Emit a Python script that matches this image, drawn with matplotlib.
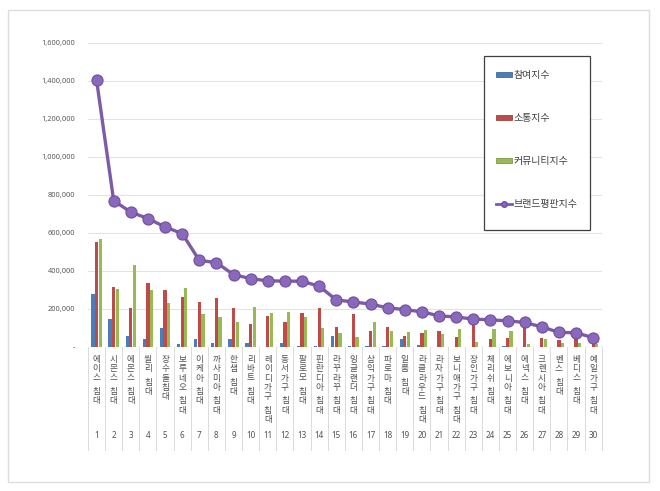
import matplotlib
matplotlib.use("Agg")
import matplotlib.pyplot as plt
from matplotlib.patches import Patch, Rectangle
from matplotlib.lines import Line2D
from matplotlib.ticker import FuncFormatter

plt.rcParams['font.family'] = ['Noto Sans CJK KR', 'DejaVu Sans']

# 침대 브랜드평판 (30위)
brands = ["에이스 침대", "시몬스 침대", "에몬스 침대", "씰리 침대", "장수돌침대",
          "보루네오 침대", "이케아 침대", "까사미아 침대", "한샘 침대", "리바트 침대",
          "레이디가구 침대", "동서가구 침대", "팔로모 침대", "핀란디아 침대", "라꾸라꾸 침대",
          "잉글랜더 침대", "삼익가구 침대", "파로마 침대", "일룸 침대", "라클라우드 침대",
          "라자가구 침대", "보니애가구 침대", "장인가구 침대", "체리쉬 침대", "에보니아 침대",
          "에넥스 침대", "크렌시아 침대", "벤스 침대", "베디스 침대", "예일가구 침대"]
ranks = list(range(1, 31))

participation = [280000, 149000, 60000, 40000, 102000, 16000, 40000, 19000, 44000, 23000,
                 2000, 23000, 3500, 5000, 60000, 3000, 5000, 3500, 44000, 12000,
                 2000, 1500, 1000, 1500, 3000, 1500, 1500, 2000, 1500, 1000]
communication = [553000, 314000, 207000, 339000, 300000, 261000, 239000, 260000, 204000, 119000,
                 163000, 130000, 177000, 207000, 105000, 172000, 82000, 105000, 60000, 74000,
                 82000, 51000, 140000, 40000, 45000, 120000, 49000, 39000, 45000, 30000]
community = [570000, 307000, 433000, 298000, 230000, 309000, 174000, 160000, 132000, 212000,
             177000, 184000, 156000, 98000, 72000, 54000, 133000, 84000, 81000, 88000,
             70000, 95000, 25000, 95000, 82000, 16000, 40000, 23000, 23000, 17000]
reputation = [1405000, 770000, 710000, 676000, 632000, 597000, 456000, 444000, 381000, 360000,
              348000, 347000, 346000, 320000, 248000, 237000, 226000, 206000, 197000, 185000,
              164000, 158000, 147000, 143000, 138000, 129000, 106000, 77000, 75000, 49000]

c_blue = "#4A7EBB"
c_red = "#BE4B48"
c_green = "#98B954"
c_purple = "#7D5BA6"

fig = plt.figure(figsize=(6.6, 4.91), dpi=100)
W, H = 660, 491

# 바깥 테두리
fig.patches.append(Rectangle((8 / W, 1 - 482 / H), 641 / W, 472 / H, transform=fig.transFigure,
                             fill=False, edgecolor="#DDDDDD", linewidth=1.0))

ax = fig.add_axes([88 / W, 1 - 347 / H, (601.7 - 88) / W, (347 - 43) / H])

x = list(range(len(brands)))
bw = 0.19
ax.bar([i - 0.21 for i in x], participation, width=bw, color=c_blue, zorder=2)
ax.bar(x, communication, width=bw, color=c_red, zorder=2)
ax.bar([i + 0.21 for i in x], community, width=bw, color=c_green, zorder=2)
ax.plot(x, reputation, color=c_purple, linewidth=2.4, marker="o", markersize=8,
        markerfacecolor="#8A68BC", markeredgecolor="#6E50A0", markeredgewidth=0.8, zorder=3)

ax.set_xlim(-0.5, len(brands) - 0.5)
ax.set_ylim(0, 1600000)
ax.set_yticks(range(0, 1600001, 200000))
ax.yaxis.set_major_formatter(FuncFormatter(lambda v, p: "-" if v == 0 else f"{int(v):,}"))
ax.tick_params(axis="y", length=0, pad=9, labelsize=5.3, labelcolor="#595959")
for lbl in ax.get_yticklabels():
    lbl.set_family(["Noto Sans", "DejaVu Sans"])
ax.set_xticks([])
ax.grid(axis="y", color="#E3E3E3", linewidth=0.8, zorder=0)
for s in ax.spines.values():
    s.set_visible(False)

# 아래쪽 표 (세로 이름 + 순위)
px = 1600000 / 304  # 1 픽셀 = 데이터 단위
for k in range(len(brands) + 1):
    ax.plot([k - 0.5, k - 0.5], [0, -103 * px], color="#DADADA", linewidth=0.7,
            clip_on=False, zorder=1)
ax.axhline(0, color="#DADADA", linewidth=0.8, zorder=1)

step = 9.3
for i, name in enumerate(brands):
    yy = -12.5
    for ch in name:
        if ch == " ":
            yy -= step * 0.45
            continue
        ax.text(i, yy * px, ch, ha="center", va="center", fontsize=6.2,
                color="#505050", clip_on=False)
        yy -= step
    ax.text(i, -89 * px, str(ranks[i]), ha="center", va="center", fontsize=5.8,
            color="#505050", family=["Noto Sans", "DejaVu Sans"], clip_on=False)

# 범례 (테두리는 따로 그림)
fig.patches.append(Rectangle((484 / W, 1 - 230 / H), 106 / W, 174 / H, transform=fig.transFigure,
                             facecolor="white", edgecolor="#404040", linewidth=0.9, zorder=5))
handles = [Patch(facecolor=c_blue, edgecolor="#2F5A8F", linewidth=0.5),
           Patch(facecolor=c_red, edgecolor="#8E2F2D", linewidth=0.5),
           Patch(facecolor=c_green, edgecolor="#6E8C36", linewidth=0.5),
           Line2D([0], [0], color=c_purple, linewidth=2, marker="o", markersize=4,
                  markerfacecolor="#8A68BC", markeredgecolor="#6E50A0")]
labels = ["참여지수", "소통지수", "커뮤니티지수", "브랜드평판지수"]
leg = fig.legend(handles, labels, loc="upper left", bbox_to_anchor=(492 / W, 1 - 66 / H),
                 fontsize=7.2, frameon=False,
                 handlelength=1.6, handleheight=0.35, handletextpad=0.15,
                 labelspacing=3.3, borderpad=0.4, borderaxespad=0)
leg.set_zorder(6)
for t in leg.get_texts():
    t.set_color("#404040")

fig.savefig("out.png", dpi=100)
